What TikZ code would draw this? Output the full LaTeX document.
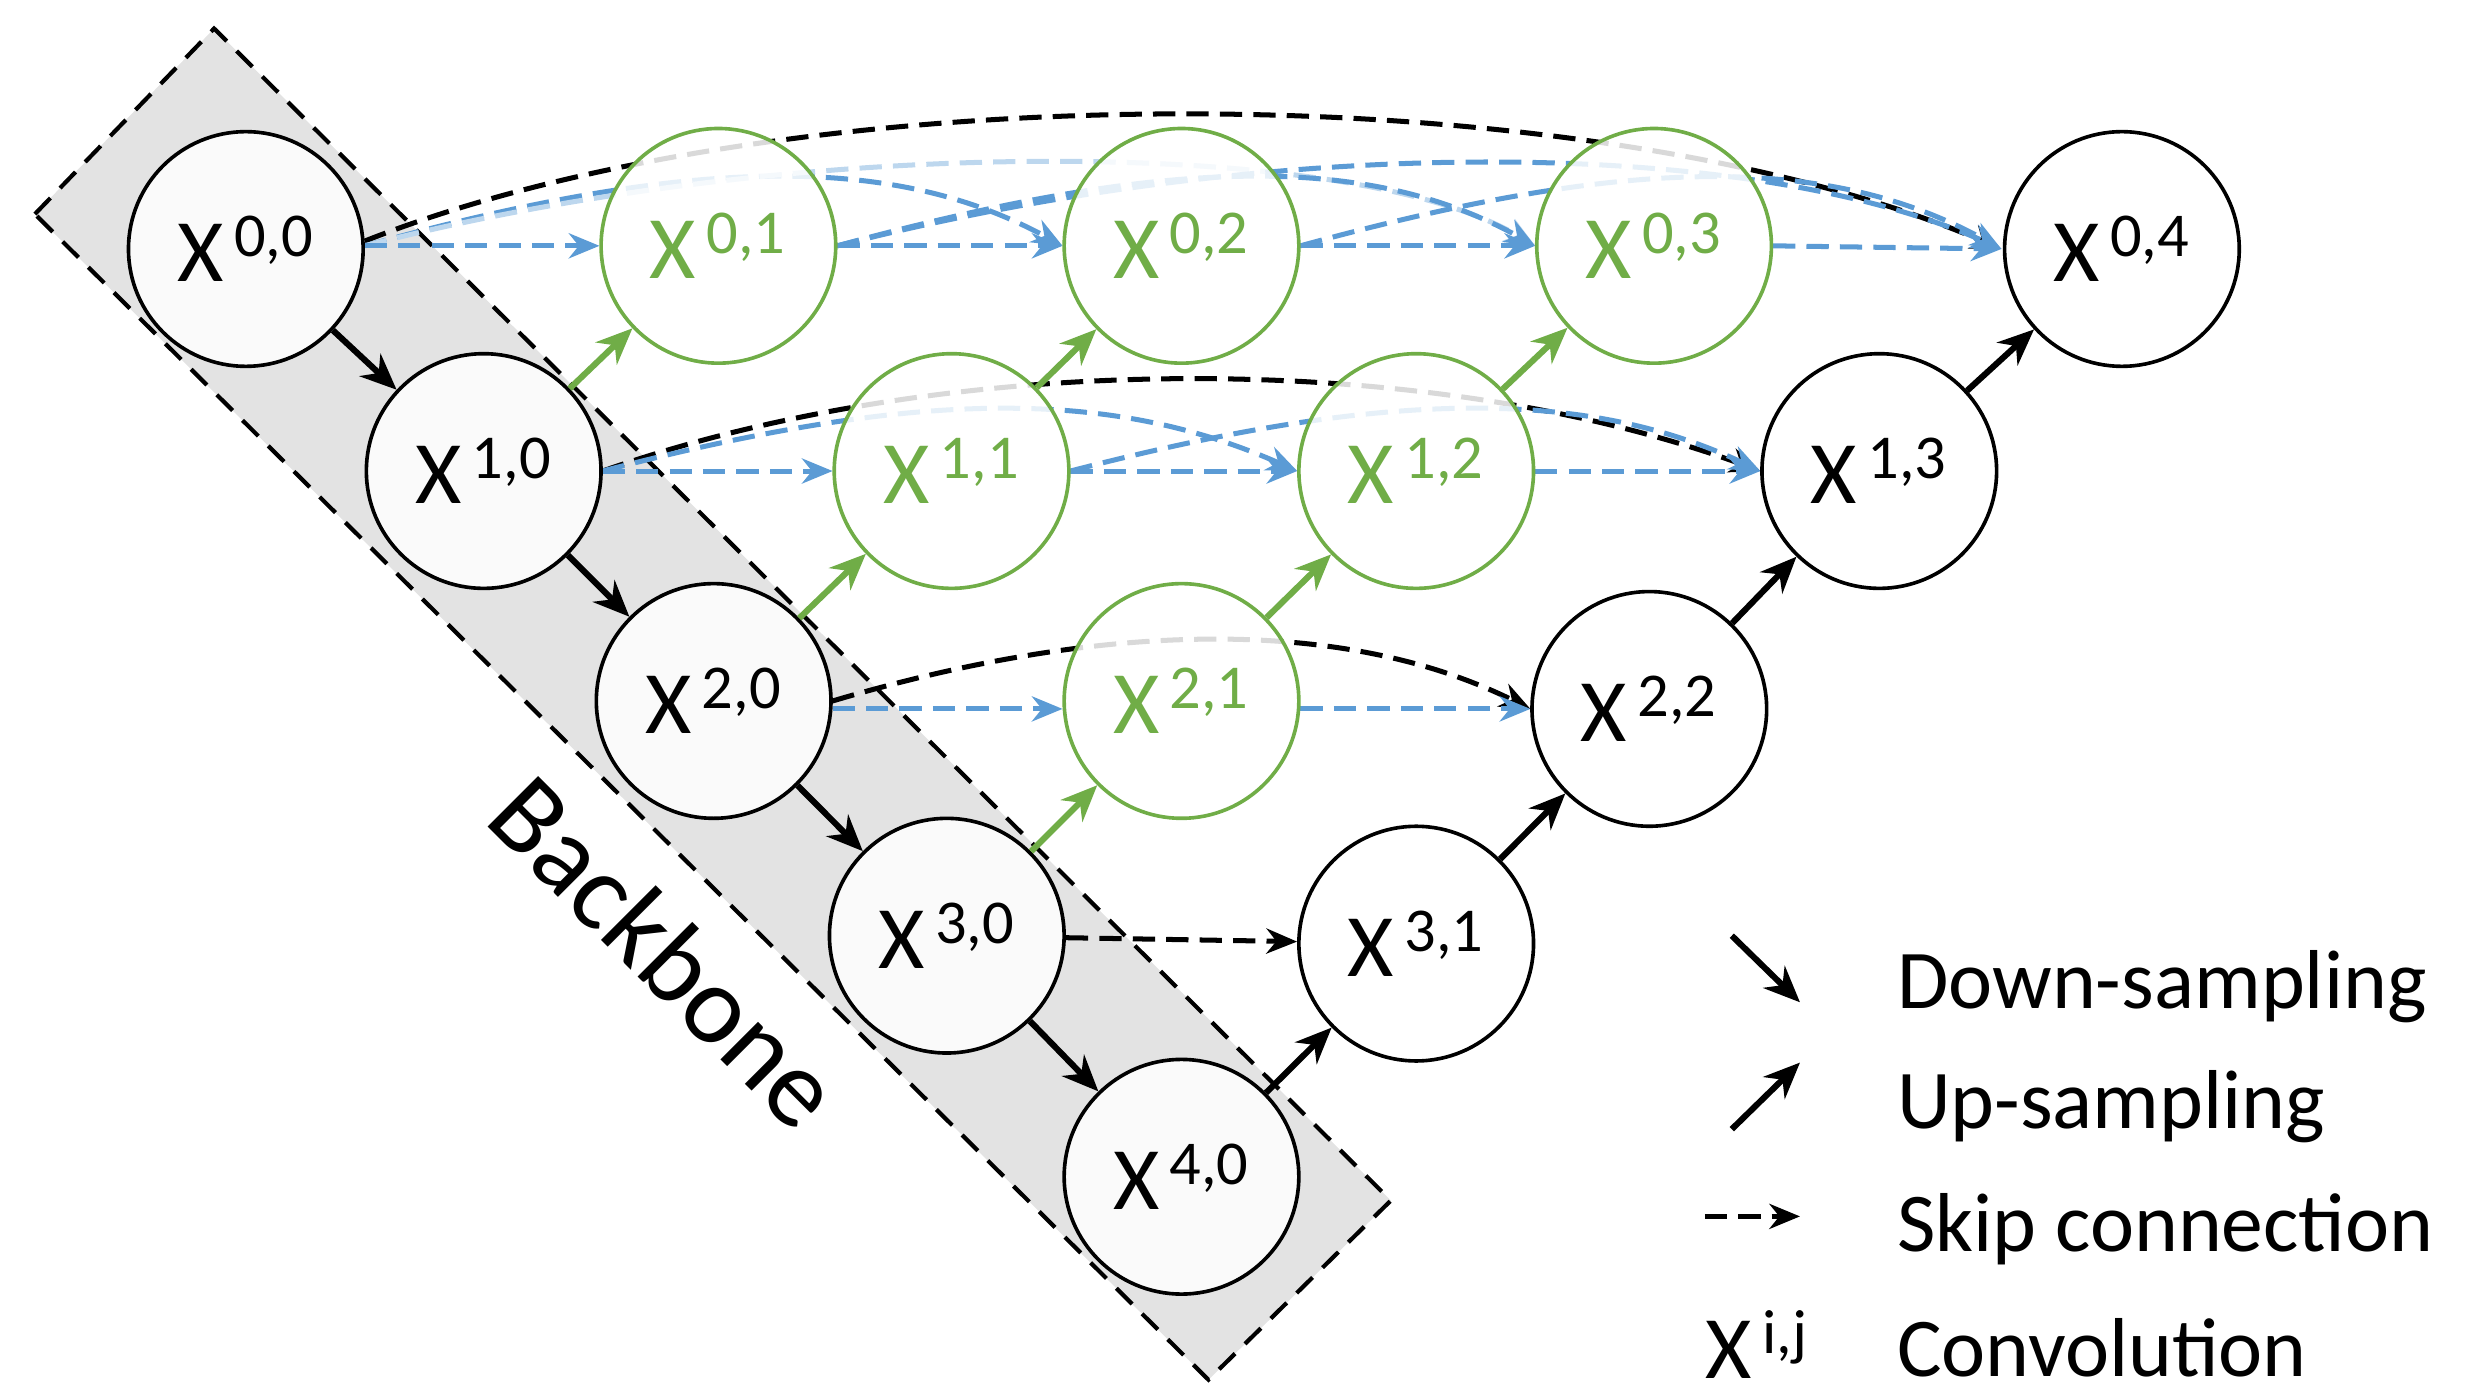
\documentclass[tikz,border=0pt]{standalone}
\usepackage{fontspec}
\setmainfont{Carlito}
\usetikzlibrary{arrows.meta}
\definecolor{gr}{RGB}{112,173,71}
\definecolor{bl}{RGB}{91,155,213}
\newcommand{\xs}[2]{X\textsuperscript{\,#1,#2}}
\begin{document}
\begin{tikzpicture}[x=0.02cm,y=-0.02cm,
 cv/.style={circle,draw=black,line width=1.3pt,fill=white,fill opacity=0.85,text opacity=1,minimum size=2.96cm,inner sep=0pt,font=\fontsize{32}{32}\selectfont},
 gcv/.style={cv,draw=gr,text=gr},
 dn/.style={line width=2.2pt,-{Stealth[length=13pt,width=11pt]}},
 up/.style={dn},
 gup/.style={dn,draw=gr,color=gr},
 sk/.style={line width=1.8pt,dash pattern=on 8pt off 4pt,-{Stealth[length=11pt,width=9pt]}},
 bsk/.style={sk,bl},
 lbl/.style={font=\fontsize{30}{30}\selectfont,anchor=west}]
\useasboundingbox (0,0) rectangle (1560,881.5);
\fill[gray!22] (22,135)--(135,18)--(877,757)--(762,870)--cycle;
\draw[line width=1.5pt,dash pattern=on 8pt off 5pt] (22,135)--(135,18)--(877,757)--(762,870)--cycle;
\node[rotate=-45,font=\fontsize{40}{40}\selectfont] (bb) at (420,600) {Backbone};
\coordinate (p00) at (155,157); \coordinate (p10) at (305,297); \coordinate (p20) at (450,442);
\coordinate (p30) at (597,590); \coordinate (p40) at (745,742);
\coordinate (p01) at (453,155); \coordinate (p02) at (745,155); \coordinate (p03) at (1043,155); \coordinate (p04) at (1338,157);
\coordinate (p11) at (600,297); \coordinate (p12) at (893,297); \coordinate (p13) at (1185,297);
\coordinate (p21) at (745,442); \coordinate (p22) at (1040,447); \coordinate (p31) at (893,595);
% long skip arcs
\draw[sk] (230,152) .. controls (500,45) and (1000,45) .. (1262,157);
\draw[bsk] (230,155) .. controls (430,100) and (560,95) .. (670,155);
\draw[bsk,bl!40] (230,155) .. controls (500,85) and (850,85) .. (968,155);
\draw[bsk] (528,155) .. controls (730,100) and (860,95) .. (968,155);
\draw[bsk] (528,155) .. controls (800,85) and (1100,85) .. (1262,157);
\draw[bsk] (820,155) .. controls (1020,100) and (1150,95) .. (1262,157);
\draw[sk] (380,297) .. controls (600,220) and (900,220) .. (1110,297);
\draw[bsk] (380,297) .. controls (580,245) and (700,245) .. (818,297);
\draw[bsk] (675,297) .. controls (875,245) and (1000,245) .. (1110,297);
\draw[sk] (525,442) .. controls (700,390) and (850,390) .. (965,447);
% straight skips
\draw[bsk] (230,155) -- (378,155);
\draw[bsk] (528,155) -- (670,155);
\draw[bsk] (820,155) -- (968,155);
\draw[bsk] (1118,155) -- (1262,157);
\draw[bsk] (380,297) -- (525,297);
\draw[bsk] (675,297) -- (818,297);
\draw[bsk] (968,297) -- (1110,297);
\draw[bsk] (525,447) -- (670,447);
\draw[bsk] (820,447) -- (965,447);
% nodes
\node[cv] (x00) at (p00) {\xs00};
\node[cv] (x10) at (p10) {\xs10};
\node[cv] (x20) at (p20) {\xs20};
\node[cv] (x30) at (p30) {\xs30};
\node[cv] (x40) at (p40) {\xs40};
\node[gcv] (x01) at (p01) {\xs01};
\node[gcv] (x02) at (p02) {\xs02};
\node[gcv] (x03) at (p03) {\xs03};
\node[cv] (x04) at (p04) {\xs04};
\node[gcv] (x11) at (p11) {\xs11};
\node[gcv] (x12) at (p12) {\xs12};
\node[cv] (x13) at (p13) {\xs13};
\node[gcv] (x21) at (p21) {\xs21};
\node[cv] (x22) at (p22) {\xs22};
\node[cv] (x31) at (p31) {\xs31};
\draw[sk] (x30) -- (x31);
\draw[dn] (x00) -- (x10); \draw[dn] (x10) -- (x20); \draw[dn] (x20) -- (x30); \draw[dn] (x30) -- (x40);
\draw[gup] (x10) -- (x01); \draw[gup] (x20) -- (x11); \draw[gup] (x11) -- (x02);
\draw[gup] (x30) -- (x21); \draw[gup] (x21) -- (x12); \draw[gup] (x12) -- (x03);
\draw[up] (x40) -- (x31); \draw[up] (x31) -- (x22); \draw[up] (x22) -- (x13); \draw[up] (x13) -- (x04);
% legend
\coordinate (l1a) at (1092,590); \coordinate (l1b) at (1135,632);
\coordinate (l2a) at (1092,712); \coordinate (l2b) at (1135,670);
\coordinate (l3a) at (1075,767); \coordinate (l3b) at (1135,767);
\draw[dn] (l1a) -- (l1b); \draw[dn] (l2a) -- (l2b); \draw[sk] (l3a) -- (l3b);
\node[lbl] (t1) at (1190,622) {Down-sampling};
\node[lbl] (t2) at (1190,698) {Up-sampling};
\node[lbl] (t3) at (1190,775) {Skip connection};
\node[lbl] (t4) at (1190,850) {Convolution};
\node[font=\fontsize{32}{32}\selectfont] (t5) at (1108,848) {X\textsuperscript{\,i,j}};
\end{tikzpicture}
\end{document}
